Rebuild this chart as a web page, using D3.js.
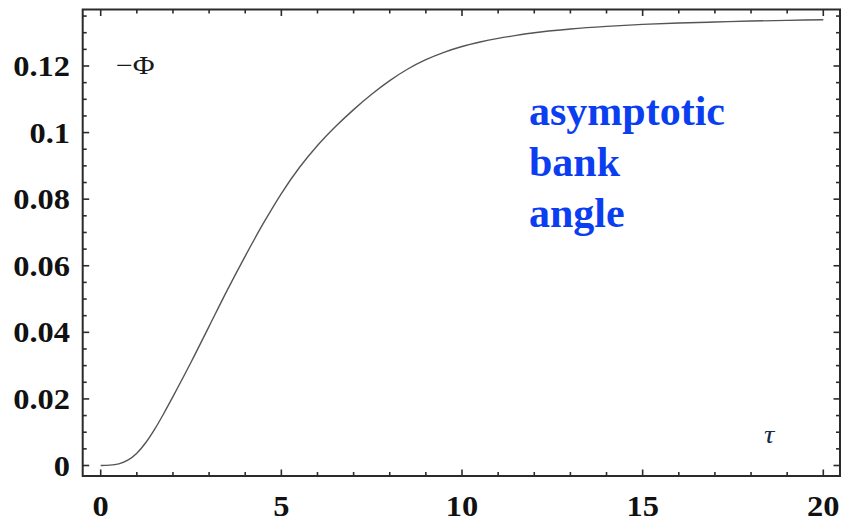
<!DOCTYPE html>
<html>
<head>
<meta charset="utf-8">
<script src="https://cdn.jsdelivr.net/npm/d3@7"></script>
<style>
  html, body { margin: 0; padding: 0; background: #fff; }
  svg { display: block; }
</style>
</head>
<body>
<svg id="chart" width="841" height="522"></svg>
<script>
// Time τ and bank angle −Φ along the response
const tau = [0, 0.25, 0.5, 0.75, 1, 1.25, 1.5, 1.75, 2, 2.5, 3, 3.5, 4, 4.5, 5, 5.5, 6, 6.5, 7, 7.5, 8, 8.5, 9, 9.5, 10, 10.5, 11, 11.5, 12, 13, 14, 15, 16, 17, 18, 19, 20];
const negPhi = [0, 0.0001, 0.0005, 0.0016, 0.0037, 0.0069, 0.011, 0.0157, 0.0207, 0.031, 0.0418, 0.0526, 0.0629, 0.0727, 0.0817, 0.0895, 0.0961, 0.1018, 0.1069, 0.1115, 0.1156, 0.1191, 0.1219, 0.1241, 0.12585, 0.1272, 0.1283, 0.1292, 0.13, 0.1311, 0.1319, 0.1325, 0.1329, 0.1332, 0.1335, 0.1337, 0.1339];

const xMajor = [0, 5, 10, 15, 20];
const xMajorLabels = ["0", "5", "10", "15", "20"];
const yMajor = [0, 0.02, 0.04, 0.06, 0.08, 0.1, 0.12];
const yMajorLabels = ["0", "0.02", "0.04", "0.06", "0.08", "0.1", "0.12"];
const annotationLines = ["asymptotic", "bank", "angle"];

const svg = d3.select("#chart");

// plot frame
const frame = { left: 82.7, right: 840, top: 9.5, bottom: 476 };

const x = d3.scaleLinear().domain([0, 20]).range([100.7, 823.3]);
const y = d3.scaleLinear().domain([0, 0.12]).range([465.5, 66]);

const xMinor = d3.range(0, 20.01, 1).filter(v => v % 5 !== 0);
const yMinor = d3.range(0, 0.1351, 0.005).map(v => +v.toFixed(3))
  .filter(v => !yMajor.some(m => Math.abs(m - v) < 1e-9));

const frameColor = "#2b2b2b";
const majorLen = 6.5, minorLen = 4;

const ticks = svg.append("g").attr("stroke", frameColor).attr("stroke-width", 1.6);

// bottom + top ticks
[[xMajor, majorLen], [xMinor, minorLen]].forEach(([vals, len]) => {
  vals.forEach(v => {
    ticks.append("line").attr("x1", x(v)).attr("x2", x(v))
      .attr("y1", frame.bottom).attr("y2", frame.bottom - len);
    ticks.append("line").attr("x1", x(v)).attr("x2", x(v))
      .attr("y1", frame.top).attr("y2", frame.top + len);
  });
});
// left + right ticks
[[yMajor, majorLen], [yMinor, minorLen]].forEach(([vals, len]) => {
  vals.forEach(v => {
    ticks.append("line").attr("y1", y(v)).attr("y2", y(v))
      .attr("x1", frame.left).attr("x2", frame.left + len);
    ticks.append("line").attr("y1", y(v)).attr("y2", y(v))
      .attr("x1", frame.right).attr("x2", frame.right - len);
  });
});

// frame box
svg.append("rect")
  .attr("x", frame.left).attr("y", frame.top)
  .attr("width", frame.right - frame.left).attr("height", frame.bottom - frame.top)
  .attr("fill", "none").attr("stroke", frameColor).attr("stroke-width", 2);

// curve
const line = d3.line().x((d, i) => x(tau[i])).y(d => y(d)).curve(d3.curveMonotoneX);
svg.append("path")
  .datum(negPhi)
  .attr("d", line)
  .attr("fill", "none")
  .attr("stroke", "#555")
  .attr("stroke-width", 1.4);

// tick labels (slightly wide serif)
const labelFont = "'Liberation Serif', 'Times New Roman', serif";
const stretch = 1.12;

xMajor.forEach((v, i) => {
  svg.append("text")
    .attr("transform", `translate(${x(v)},516) scale(${stretch},1)`)
    .attr("text-anchor", "middle")
    .attr("font-family", labelFont).attr("font-weight", "bold").attr("font-size", 29)
    .attr("fill", "#111")
    .text(xMajorLabels[i]);
});

yMajor.forEach((v, i) => {
  svg.append("text")
    .attr("transform", `translate(70,${y(v) + 10}) scale(${stretch},1)`)
    .attr("text-anchor", "end")
    .attr("font-family", labelFont).attr("font-weight", "bold").attr("font-size", 29)
    .attr("fill", "#111")
    .text(yMajorLabels[i]);
});

// axis names
svg.append("text")
  .attr("transform", `translate(116,73.5) scale(1.15,1)`)
  .attr("font-family", labelFont).attr("font-size", 26)
  .attr("fill", "#1a1a1a")
  .text("\u2212\u03A6");

svg.append("text")
  .attr("transform", `translate(764,443) scale(1.15,1)`)
  .attr("font-family", labelFont).attr("font-style", "italic").attr("font-size", 25)
  .attr("fill", "#1a2a4a")
  .text("\u03C4");

// annotation
const note = svg.append("text")
  .attr("font-family", labelFont).attr("font-weight", "bold").attr("font-size", 42)
  .attr("fill", "#0a3ef0");
annotationLines.forEach((s, i) => {
  note.append("tspan").attr("x", 529).attr("y", 125 + i * 51).text(s);
});
</script>
</body>
</html>
